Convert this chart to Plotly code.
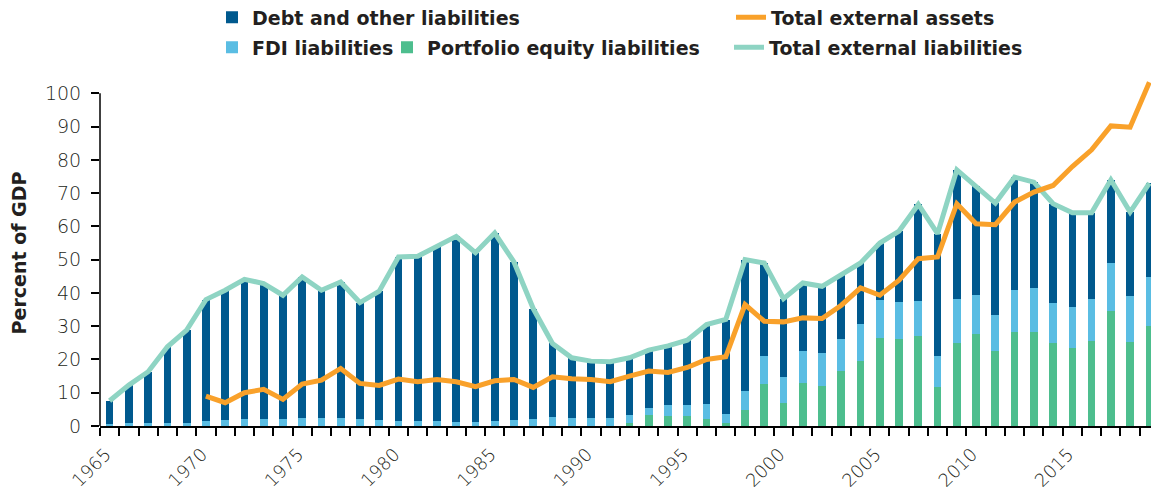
import plotly.graph_objects as go

years = list(range(1965, 2020))

portfolio = [0]*27 + [1.0, 3.2, 3.1, 3.1, 2.2, 1.0, 4.7, 12.6,
    7.0, 12.8, 12.0, 16.6, 19.6, 26.6, 26.2, 27.2, 11.8, 25.0,
    27.7, 22.6, 28.3, 28.3, 24.8, 23.4, 25.5, 34.7, 25.3, 30.2]

fdi = [0.5, 0.8, 0.8, 0.8, 1.0, 1.6, 1.7, 2.0, 2.2, 2.0,
       2.3, 2.3, 2.3, 2.0, 1.7, 1.6, 1.5, 1.5, 1.3, 1.2,
       1.5, 1.8, 2.1, 2.6, 2.5, 2.3, 2.3, 2.3, 2.2, 3.3,
       3.2, 4.4, 2.6, 5.9, 8.5, 7.6, 9.7, 10.0, 9.5, 11.2,
       11.3, 11.0, 10.5, 9.2, 13.1, 11.8, 10.8, 12.5, 13.1, 12.1,
       12.3, 12.7, 14.3, 13.7, 14.5]

debt = [7.1, 11.5, 15.5, 23.0, 27.8, 36.4, 39.1, 42.1, 40.6, 37.3,
        42.5, 38.5, 41.0, 35.1, 38.8, 49.2, 49.5, 52.3, 55.7, 50.9,
        56.5, 47.5, 33.2, 22.2, 18.0, 17.2, 17.0, 17.2, 17.4, 17.7,
        19.5, 23.9, 28.4, 39.4, 27.9, 23.7, 20.5, 20.0, 19.2, 18.2,
        17.1, 21.4, 28.9, 36.8, 38.9, 32.5, 33.6, 34.0, 31.9, 29.9,
        28.4, 25.9, 25.0, 25.3, 28.3]

total_liabilities = [7.6, 12.3, 16.3, 23.8, 28.8, 38.0, 40.8, 44.1, 42.8, 39.3,
                     44.8, 40.8, 43.3, 37.1, 40.5, 50.8, 51.0, 53.8, 57.0, 52.1,
                     58.0, 49.3, 35.3, 24.8, 20.5, 19.5, 19.3, 20.5, 22.8, 24.1,
                     25.8, 30.5, 32.0, 50.0, 49.0, 38.3, 43.0, 42.0, 45.3, 49.0,
                     55.0, 58.6, 66.6, 57.8, 77.0, 72.0, 67.0, 74.8, 73.3, 66.8,
                     64.1, 64.1, 74.0, 64.3, 73.0]

total_assets = [None]*5 + [9.0, 7.0, 10.0, 11.0, 8.0, 12.6, 13.8, 17.3, 12.8, 12.2,
                14.1, 13.3, 14.0, 13.3, 11.8, 13.6, 14.0, 11.6, 14.8, 14.2,
                14.0, 13.3, 15.0, 16.5, 16.1, 17.6, 20.0, 20.8, 36.5, 31.5,
                31.3, 32.5, 32.3, 36.3, 41.5, 39.3, 43.8, 50.3, 50.8, 66.8,
                60.8, 60.5, 67.3, 70.3, 72.3, 78.0, 83.0, 90.2, 89.8, 103.3]

label_years = [1965, 1970, 1975, 1980, 1985, 1990, 1995, 2000, 2005, 2010, 2015]
y_ticks = [0, 10, 20, 30, 40, 50, 60, 70, 80, 90, 100]

C_DEBT = "#00598E"
C_FDI = "#5ABDE3"
C_PORT = "#4DBE8E"
C_ASSET = "#F9A12A"
C_LIAB = "#8ED4C3"
TXT = "#231F20"

fig = go.Figure()
fig.add_trace(go.Bar(x=years, y=portfolio, name="Portfolio equity liabilities",
                     marker=dict(color=C_PORT, line=dict(width=0)), width=0.4, legend="legend4"))
fig.add_trace(go.Bar(x=years, y=fdi, name="FDI liabilities",
                     marker=dict(color=C_FDI, line=dict(width=0)), width=0.4, legend="legend3"))
fig.add_trace(go.Bar(x=years, y=debt, name="Debt and other liabilities",
                     marker=dict(color=C_DEBT, line=dict(width=0)), width=0.4, legend="legend"))
fig.add_trace(go.Scatter(x=years, y=total_liabilities, name="Total external liabilities",
                         mode="lines", line=dict(color=C_LIAB, width=5), cliponaxis=False,
                         legend="legend5"))
fig.add_trace(go.Scatter(x=years, y=total_assets, name="Total external assets",
                         mode="lines", line=dict(color=C_ASSET, width=5), cliponaxis=False,
                         legend="legend2"))

# page body has an 8px margin; compensate so the plot lands where the reference has it
OFF = 8
Y_TOP = 104
L, W = 100, 1059
BOTTOM = 426
H = 333 * Y_TOP / 100
T = BOTTOM - H
FW, FH = 1159 - OFF, 496 - OFF


def lx(px):
    return (px - 41 - L) / W


def ly(py):
    return (BOTTOM - py) / H


legfont = dict(family="DejaVu Sans", size=19, color=TXT, weight="bold")
common = dict(font=legfont, xanchor="left", yanchor="middle", bgcolor="rgba(0,0,0,0)",
              borderwidth=0, orientation="h")

fig.update_layout(
    width=FW, height=FH,
    margin=dict(l=L - OFF, r=FW - (L - OFF) - W, t=T - OFF, b=FH - (T - OFF) - H,
                autoexpand=False),
    plot_bgcolor="white", paper_bgcolor="white",
    barmode="stack",
    showlegend=True,
    legend=dict(x=lx(253), y=ly(17), **common),
    legend2=dict(x=lx(772), y=ly(17), **common),
    legend3=dict(x=lx(253), y=ly(47), **common),
    legend4=dict(x=lx(428), y=ly(47), **common),
    legend5=dict(x=lx(770), y=ly(47), **common),
    xaxis=dict(
        range=[1964.5, 2019.5], tickmode="array", tickvals=label_years,
        ticktext=[str(y) for y in label_years], ticks="", tickangle=-45,
        tickfont=dict(family="DejaVu Sans", size=18, color=TXT, weight=300),
        showline=True, linecolor="black", linewidth=1.5, showgrid=False, zeroline=False,
        ticklabelstandoff=9, ticklabelshift=-4, automargin=False,
        minor=dict(ticks="outside", tickmode="linear", tick0=1964.5, dtick=1,
                   ticklen=8, tickwidth=1.5, tickcolor="black", showgrid=False),
    ),
    yaxis=dict(
        range=[0, Y_TOP], tickmode="array", tickvals=y_ticks,
        ticks="outside", ticklen=8, tickwidth=1.5, tickcolor="black",
        tickfont=dict(family="DejaVu Sans", size=19, color=TXT, weight=300),
        showline=False, showgrid=False, zeroline=False,
        ticklabelstandoff=6, automargin=False,
        title=dict(text="Percent of GDP", standoff=15,
                   font=dict(family="DejaVu Sans", size=19, color=TXT, weight="bold")),
    ),
    shapes=[dict(type="line", xref="paper", yref="y", x0=0, x1=0, y0=0, y1=y_ticks[-1],
                 line=dict(color="black", width=1.5), layer="above")],
)

fig.write_html("out.html")
